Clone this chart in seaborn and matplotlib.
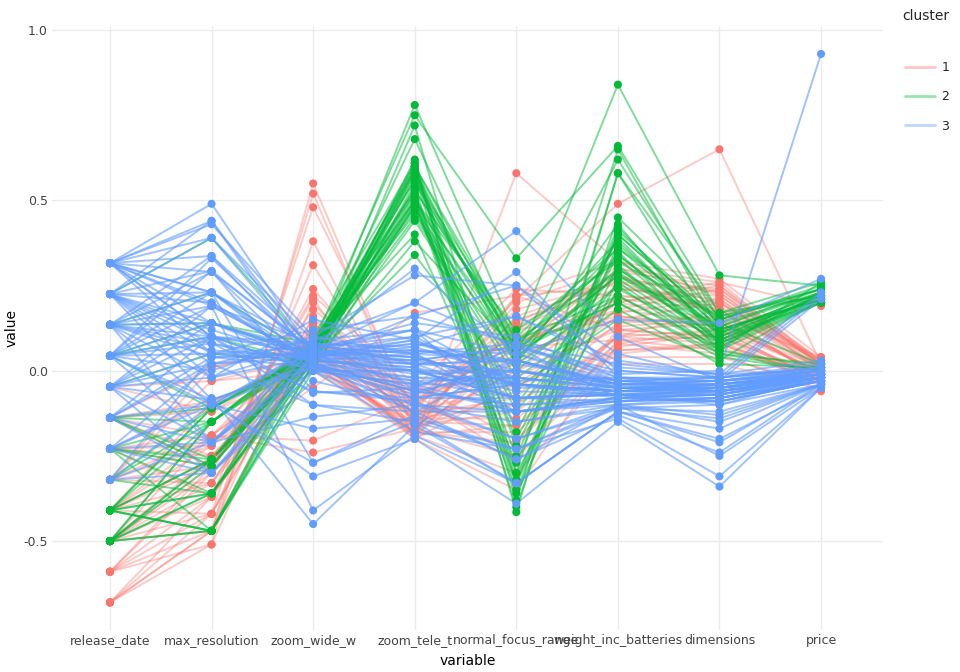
import numpy as np
import pandas as pd
import seaborn as sns
import matplotlib.pyplot as plt
from matplotlib.lines import Line2D

sns.set_theme(style="whitegrid")
plt.rcParams['font.family'] = ['DejaVu Sans']

# parallel coordinates of the camera specs, coloured by cluster
variables = ["release_date", "max_resolution", "zoom_wide_w", "zoom_tele_t",
             "normal_focus_range", "weight_inc_batteries", "dimensions", "price"]

cluster1 = [
    [-0.68, -0.51, 0.55, -0.15, 0.05, 0.15, 0.20, 0.02],
    [-0.68, -0.47, 0.52, -0.18, 0.22, 0.25, 0.18, 0.00],
    [-0.68, -0.42, 0.48, -0.12, -0.10, 0.10, 0.12, -0.03],
    [-0.59, -0.47, 0.38, -0.20, 0.58, 0.32, 0.22, 0.03],
    [-0.59, -0.37, 0.31, -0.16, 0.00, 0.20, 0.25, 0.01],
    [-0.59, -0.30, 0.24, -0.10, 0.21, 0.49, 0.65, 0.02],
    [-0.59, -0.28, 0.21, -0.19, -0.16, 0.05, 0.08, -0.04],
    [-0.50, -0.42, 0.10, -0.14, 0.13, 0.28, 0.16, 0.04],
    [-0.50, -0.25, 0.05, -0.18, -0.21, 0.12, 0.10, -0.02],
    [-0.50, -0.19, -0.205, -0.08, 0.06, 0.30, 0.26, 0.19],
    [-0.50, -0.30, 0.02, -0.20, -0.35, 0.08, 0.05, -0.06],
    [-0.41, -0.26, 0.08, -0.05, 0.24, 0.22, 0.20, 0.01],
    [-0.41, -0.19, -0.24, -0.17, -0.06, 0.18, 0.14, -0.01],
    [-0.41, -0.33, 0.12, -0.11, 0.18, 0.26, 0.24, 0.03],
    [-0.41, -0.09, 0.04, -0.19, -0.30, 0.02, 0.02, -0.05],
    [-0.32, -0.22, 0.18, -0.06, 0.10, 0.15, 0.12, 0.00],
    [-0.32, -0.03, 0.00, -0.15, -0.16, 0.10, 0.18, -0.03],
    [-0.32, -0.28, 0.06, -0.12, 0.22, 0.32, 0.27, 0.04],
    [-0.32, 0.01, 0.07, -0.20, -0.04, 0.06, 0.08, -0.02],
    [-0.229, -0.19, 0.10, -0.08, 0.02, 0.20, 0.15, 0.01],
    [-0.229, -0.25, -0.05, 0.17, 0.22, 0.12, 0.10, -0.01],
    [-0.229, -0.09, 0.03, -0.17, -0.25, 0.04, 0.04, -0.04],
    [-0.229, -0.37, 0.14, -0.10, 0.15, 0.24, 0.22, 0.02],
    [-0.138, -0.12, 0.05, -0.14, -0.10, 0.14, 0.16, -0.02],
    [-0.138, 0.01, 0.08, 0.02, 0.07, 0.09, 0.06, 0.00],
    [-0.138, -0.19, 0.02, -0.18, 0.05, 0.28, 0.20, 0.03],
    [-0.138, -0.28, 0.22, -0.04, -0.20, 0.07, 0.11, -0.03],
    [-0.047, -0.03, 0.04, -0.07, 0.09, 0.16, 0.13, 0.01],
    [-0.047, -0.12, 0.01, -0.16, -0.12, 0.10, 0.08, -0.02],
    [-0.68, -0.37, 0.06, -0.19, 0.08, 0.18, 0.24, 0.02],
    [-0.59, -0.51, 0.14, -0.13, -0.08, 0.22, 0.19, 0.01],
    [-0.50, -0.47, 0.09, -0.16, 0.16, 0.26, 0.17, 0.03],
    [-0.41, -0.42, 0.16, -0.09, -0.22, 0.11, 0.09, -0.04],
    [-0.32, -0.33, 0.03, -0.18, 0.20, 0.30, 0.23, 0.02],
    [-0.229, -0.28, 0.12, -0.13, 0.12, 0.17, 0.21, 0.00],
    [-0.138, -0.25, 0.07, -0.06, -0.02, 0.13, 0.15, -0.01],
    [-0.41, -0.22, 0.00, -0.19, 0.03, 0.20, 0.26, 0.02],
    [-0.50, -0.33, 0.11, -0.14, -0.14, 0.08, 0.12, -0.03],
    [-0.59, -0.42, 0.10, -0.17, 0.10, 0.24, 0.21, 0.02],
    [-0.50, -0.37, 0.06, -0.12, -0.04, 0.16, 0.13, 0.00],
    [-0.41, -0.28, 0.13, -0.15, 0.14, 0.29, 0.25, 0.03],
    [-0.32, -0.19, 0.04, -0.18, -0.18, 0.06, 0.07, -0.03],
    [-0.229, -0.22, 0.09, -0.10, 0.08, 0.21, 0.18, 0.01],
    [-0.138, -0.09, 0.03, -0.16, 0.00, 0.12, 0.14, -0.01],
    [-0.68, -0.47, 0.20, -0.14, 0.12, 0.27, 0.23, 0.02],
    [-0.50, -0.28, 0.15, -0.07, -0.26, 0.09, 0.10, -0.04],
]

cluster2 = [
    [-0.41, -0.47, 0.05, 0.78, 0.10, 0.84, 0.28, 0.25],
    [-0.41, -0.36, 0.08, 0.75, 0.33, 0.66, 0.17, 0.22],
    [-0.50, -0.47, 0.02, 0.72, -0.30, 0.65, 0.12, 0.21],
    [-0.50, -0.28, 0.06, 0.68, 0.05, 0.62, 0.15, 0.24],
    [-0.41, -0.26, 0.10, 0.61, -0.415, 0.58, 0.10, 0.20],
    [-0.50, -0.15, 0.04, 0.59, 0.02, 0.43, 0.08, 0.22],
    [-0.41, -0.11, 0.07, 0.59, -0.33, 0.40, 0.14, 0.23],
    [-0.50, -0.36, 0.01, 0.55, 0.07, 0.38, 0.11, 0.21],
    [-0.41, -0.47, 0.09, 0.52, -0.20, 0.35, 0.06, 0.26],
    [-0.229, -0.26, 0.03, 0.50, 0.12, 0.32, 0.16, 0.22],
    [-0.229, -0.15, 0.06, 0.48, -0.10, 0.30, 0.09, 0.20],
    [-0.138, -0.11, 0.05, 0.45, 0.00, 0.25, 0.05, 0.02],
    [-0.138, -0.28, 0.08, 0.40, -0.27, 0.42, 0.12, 0.21],
    [0.044, 0.10, 0.02, 0.38, 0.06, 0.20, 0.04, 0.00],
    [0.135, 0.23, 0.04, 0.34, -0.05, 0.15, 0.03, 0.21],
    [0.225, 0.39, 0.06, 0.60, 0.09, 0.22, 0.07, 0.23],
    [-0.32, -0.36, 0.03, 0.57, -0.35, 0.37, 0.13, 0.24],
    [-0.32, -0.15, 0.07, 0.50, 0.04, 0.28, 0.10, 0.22],
    [-0.50, -0.26, 0.05, 0.61, -0.38, 0.58, 0.17, 0.26],
    [-0.41, -0.36, 0.09, 0.53, 0.08, 0.33, 0.08, 0.21],
    [-0.50, -0.47, 0.00, 0.49, -0.25, 0.40, 0.14, 0.02],
    [-0.41, -0.11, 0.04, 0.58, 0.03, 0.30, 0.11, 0.23],
    [-0.229, -0.28, 0.06, 0.47, -0.12, 0.26, 0.06, 0.20],
    [-0.138, -0.15, 0.08, 0.56, 0.10, 0.36, 0.15, 0.25],
    [-0.047, 0.05, 0.03, 0.44, -0.02, 0.18, 0.02, 0.01],
    [0.044, -0.11, 0.05, 0.52, -0.30, 0.24, 0.09, 0.22],
    [-0.50, -0.26, 0.07, 0.60, 0.06, 0.34, 0.12, 0.21],
    [-0.41, -0.47, 0.02, 0.54, -0.40, 0.45, 0.16, 0.24],
    [-0.32, -0.11, 0.06, 0.49, 0.07, 0.20, 0.05, 0.00],
    [-0.229, -0.36, 0.04, 0.59, -0.18, 0.39, 0.10, 0.22],
    [0.135, 0.14, 0.08, 0.46, 0.04, 0.28, 0.13, 0.23],
    [-0.50, -0.15, 0.05, 0.51, -0.33, 0.31, 0.07, 0.20],
    [-0.41, -0.26, 0.06, 0.56, 0.05, 0.36, 0.12, 0.22],
    [-0.50, -0.36, 0.03, 0.62, -0.32, 0.41, 0.15, 0.24],
    [-0.229, -0.47, 0.07, 0.53, 0.09, 0.29, 0.09, 0.21],
    [-0.138, -0.26, 0.04, 0.58, -0.22, 0.34, 0.11, 0.23],
    [0.044, 0.14, 0.05, 0.48, 0.02, 0.22, 0.06, 0.01],
    [-0.41, -0.15, 0.08, 0.50, -0.36, 0.27, 0.08, 0.20],
]

cluster3 = [
    [0.316, 0.49, 0.05, 0.10, -0.05, -0.05, -0.06, -0.02],
    [0.316, 0.44, 0.02, -0.05, 0.07, -0.08, -0.05, -0.01],
    [0.316, 0.43, 0.10, 0.28, 0.25, 0.05, -0.02, 0.01],
    [0.316, 0.337, 0.03, 0.05, -0.12, -0.10, -0.08, -0.03],
    [0.316, 0.23, -0.27, -0.15, -0.33, -0.12, -0.21, -0.04],
    [0.316, 0.19, 0.08, 0.02, 0.03, -0.04, -0.04, 0.00],
    [0.316, 0.10, 0.00, -0.18, -0.23, -0.14, -0.31, -0.05],
    [0.316, 0.05, 0.12, 0.16, 0.08, 0.02, -0.01, 0.03],
    [0.225, 0.39, 0.04, 0.09, 0.29, -0.02, -0.06, -0.02],
    [0.225, 0.293, -0.06, -0.08, -0.04, -0.07, -0.09, -0.03],
    [0.225, 0.14, 0.06, 0.20, 0.41, 0.10, -0.03, 0.21],
    [0.225, 0.08, 0.01, -0.03, -0.08, -0.06, -0.07, -0.01],
    [0.225, 0.02, 0.09, 0.12, -0.15, -0.11, -0.12, -0.04],
    [0.225, -0.085, -0.31, -0.20, -0.39, -0.15, -0.34, -0.05],
    [0.225, 0.12, 0.03, 0.00, 0.00, -0.03, -0.05, 0.00],
    [0.135, 0.337, 0.07, 0.30, 0.05, 0.15, 0.14, 0.27],
    [0.135, 0.23, 0.02, -0.06, -0.10, -0.09, -0.06, -0.02],
    [0.135, 0.10, -0.10, -0.12, -0.26, -0.13, -0.24, -0.04],
    [0.135, 0.04, 0.05, 0.06, 0.03, -0.05, -0.04, -0.01],
    [0.135, -0.02, 0.15, 0.09, -0.03, -0.02, -0.02, 0.02],
    [0.135, -0.21, 0.00, -0.04, -0.12, -0.08, -0.09, -0.03],
    [0.135, 0.06, 0.04, 0.03, 0.07, -0.01, 0.00, 0.93],
    [0.044, 0.293, 0.06, 0.12, -0.04, -0.06, -0.05, -0.02],
    [0.044, 0.19, -0.41, -0.19, -0.33, -0.12, -0.17, -0.04],
    [0.044, 0.08, 0.03, 0.02, 0.00, -0.04, -0.03, 0.00],
    [0.044, 0.00, 0.10, 0.05, -0.08, -0.07, -0.08, -0.02],
    [0.044, -0.085, 0.01, -0.07, 0.03, -0.03, -0.04, -0.01],
    [0.044, 0.14, 0.02, -0.02, -0.02, -0.05, -0.06, 0.01],
    [0.044, -0.21, -0.135, -0.10, -0.20, -0.10, -0.25, -0.05],
    [-0.047, 0.05, 0.05, 0.04, -0.04, -0.06, -0.05, -0.02],
    [-0.047, -0.02, 0.07, 0.10, 0.16, 0.01, -0.01, 0.23],
    [-0.047, 0.10, -0.065, -0.05, -0.12, -0.08, -0.07, -0.03],
    [-0.047, -0.085, 0.02, -0.12, 0.03, -0.04, -0.03, 0.00],
    [-0.047, -0.30, 0.00, 0.00, -0.08, -0.07, -0.10, -0.02],
    [-0.138, 0.02, 0.04, 0.07, -0.02, -0.05, -0.04, -0.01],
    [-0.138, -0.10, -0.17, -0.14, -0.23, -0.11, -0.14, -0.04],
    [-0.138, -0.21, 0.06, 0.03, 0.07, -0.02, -0.03, 0.01],
    [-0.138, 0.04, 0.01, -0.02, -0.04, -0.06, -0.06, -0.02],
    [-0.229, -0.21, 0.03, 0.01, -0.12, -0.09, -0.08, -0.03],
    [-0.229, -0.08, -0.45, -0.16, -0.33, -0.12, -0.20, -0.05],
    [-0.229, -0.30, 0.05, -0.04, 0.00, -0.04, -0.05, -0.01],
    [-0.32, -0.21, 0.02, -0.08, -0.04, -0.07, -0.07, -0.02],
    [-0.32, -0.10, 0.07, 0.05, 0.08, -0.03, -0.02, 0.00],
    [0.316, 0.10, 0.06, 0.04, -0.04, -0.06, -0.05, -0.02],
    [0.225, 0.20, 0.02, 0.00, -0.08, -0.07, -0.06, -0.03],
    [0.135, 0.14, 0.05, 0.08, 0.00, -0.05, -0.05, -0.01],
    [0.044, 0.10, 0.00, -0.04, -0.04, -0.08, -0.07, -0.02],
    [-0.047, 0.14, 0.04, 0.16, 0.25, 0.00, -0.02, 0.22],
    [0.316, 0.20, 0.03, 0.00, -0.08, -0.09, -0.08, -0.03],
    [0.225, 0.05, 0.07, 0.05, 0.03, -0.04, -0.04, -0.01],
    [0.316, 0.14, 0.04, 0.06, 0.02, -0.03, -0.03, -0.01],
    [0.316, 0.29, 0.01, -0.10, -0.15, -0.10, -0.09, -0.03],
    [0.316, 0.23, 0.07, 0.12, 0.05, -0.05, -0.06, -0.02],
    [0.225, 0.44, 0.05, 0.03, -0.02, -0.06, -0.05, -0.02],
    [0.225, 0.23, 0.00, -0.12, -0.12, -0.09, -0.08, -0.03],
    [0.225, 0.10, 0.08, 0.07, 0.16, 0.03, -0.01, 0.00],
    [0.135, 0.19, 0.03, 0.01, -0.06, -0.07, -0.07, -0.02],
    [0.135, 0.08, -0.06, -0.09, -0.20, -0.11, -0.10, -0.04],
    [0.135, 0.29, 0.06, 0.14, 0.10, -0.02, -0.03, 0.00],
    [0.044, 0.23, 0.04, 0.08, 0.03, -0.04, -0.04, -0.01],
    [0.044, 0.05, 0.02, -0.06, -0.10, -0.08, -0.07, -0.02],
    [0.044, -0.10, 0.06, 0.00, -0.04, -0.06, -0.06, -0.02],
    [-0.047, 0.19, 0.03, -0.03, -0.02, -0.05, -0.05, -0.01],
    [-0.047, 0.02, -0.10, -0.15, -0.23, -0.10, -0.13, -0.04],
    [-0.047, -0.21, 0.08, 0.06, 0.05, -0.03, -0.02, 0.01],
    [-0.138, 0.10, 0.05, 0.02, -0.08, -0.07, -0.06, -0.02],
    [-0.138, -0.30, 0.02, -0.06, 0.00, -0.05, -0.05, -0.01],
    [-0.229, 0.02, 0.06, 0.04, -0.04, -0.06, -0.04, -0.02],
    [-0.229, -0.10, -0.27, -0.13, -0.26, -0.10, -0.15, -0.04],
    [-0.32, 0.04, 0.04, 0.02, 0.03, -0.04, -0.03, -0.01],
    [-0.32, -0.30, -0.03, -0.10, -0.12, -0.08, -0.09, -0.03],
    [0.316, 0.39, 0.09, 0.20, 0.07, 0.00, -0.02, 0.01],
    [0.225, -0.02, 0.04, -0.01, 0.00, -0.05, -0.04, -0.01],
    [0.135, -0.10, 0.01, -0.08, -0.08, -0.07, -0.06, -0.02],
    [0.044, 0.33, 0.05, 0.09, -0.04, -0.06, -0.05, -0.02],
]

cluster_names = ["1", "2", "3"]
palette = {"1": "#F8766D", "2": "#00BA38", "3": "#619CFF"}
line_alpha = {"1": 0.38, "2": 0.5, "3": 0.6}

records = []
line_id = 0
for name, rows in zip(cluster_names, [cluster1, cluster2, cluster3]):
    for row in rows:
        for var, val in zip(variables, row):
            records.append({"id": line_id, "cluster": name, "variable": var, "value": val})
        line_id += 1
df = pd.DataFrame(records)

fig = plt.figure(figsize=(9.6, 6.72), dpi=100)
ax = fig.add_axes([52 / 960, 42 / 672, 831 / 960, 604 / 672])

# one lineplot per cluster so that each can get its own transparency
for name in cluster_names:
    sns.lineplot(data=df[df["cluster"] == name], x="variable", y="value", units="id",
                 estimator=None, sort=False, color=palette[name], alpha=line_alpha[name],
                 linewidth=1.4, legend=False, ax=ax)
sns.scatterplot(data=df, x="variable", y="value", hue="cluster", palette=palette,
                s=34, linewidth=0, legend=False, ax=ax, zorder=3)

ax.set_xlim(-0.571, 7.61)
ax.set_ylim(-0.761, 1.012)
ax.set_yticks([-0.5, 0.0, 0.5, 1.0])
ax.set_yticklabels(["-0.5", "0.0", "0.5", "1.0"])
ax.grid(True, color="#EBEBEB", linewidth=1)
for s in ax.spines.values():
    s.set_visible(False)
ax.tick_params(axis="both", length=0, labelsize=9, labelcolor="#444444", pad=3)

ax.set_xlabel("variable", fontsize=10, color="black")
ax.set_ylabel("value", fontsize=10, color="black")
ax.xaxis.set_label_coords(0.5, -0.04)
ax.yaxis.set_label_coords(-33 / 831, 0.5)

fig.text(926 / 960, 1 - 16 / 672, "cluster", ha="center", va="center", fontsize=10)
handles = [Line2D([0], [0], color=palette[c], alpha=0.4, lw=2) for c in cluster_names]
fig.legend(handles, cluster_names, loc="upper left", bbox_to_anchor=(905 / 960, 1 - 61 / 672),
           frameon=False, fontsize=9, handlelength=2.4, handletextpad=0.5,
           labelspacing=1.3, borderpad=0, borderaxespad=0)

fig.savefig("out.png", dpi=100, facecolor="white")
